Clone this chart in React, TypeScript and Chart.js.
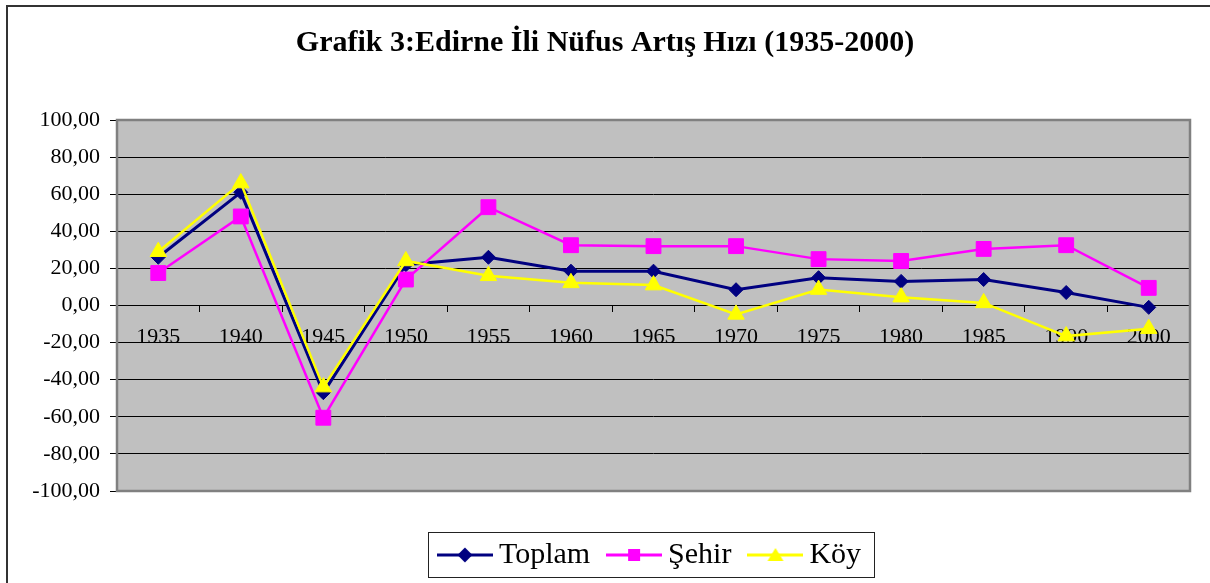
import React, { useEffect, useRef } from 'react';
import { Chart, registerables } from 'chart.js';

Chart.register(...registerables);

const TITLE = 'Grafik 3:Edirne İli Nüfus Artış Hızı (1935-2000)';
const YEARS = ['1935', '1940', '1945', '1950', '1955', '1960', '1965', '1970', '1975', '1980', '1985', '1990', '2000'];
const SERIES_NAMES = ['Toplam', 'Şehir', 'Köy'];
const TOPLAM = [26, 61, -47, 22, 26, 18.5, 18.5, 8.5, 15, 13, 14, 7, -1];
const SEHIR = [17.5, 48, -60.5, 14, 53, 32.5, 32, 32, 25, 24, 30.5, 32.5, 9.5];
const KOY = [29, 66, -44, 24, 16, 12.2, 11, -4.8, 8.6, 4.5, 1.4, -16.5, -12.5];
const Y_MIN = -100;
const Y_MAX = 100;
const Y_STEP = 20;

const SERIF = '"Liberation Serif", "Times New Roman", serif';
const NAVY = '#000080';
const MAGENTA = '#FF00FF';
const YELLOW = '#FFFF00';

function makeLegendIcon(color: string, shape: string): HTMLCanvasElement {
  const c = document.createElement('canvas');
  c.width = 56;
  c.height = 20;
  const ctx = c.getContext('2d')!;
  ctx.strokeStyle = color;
  ctx.lineWidth = 3;
  ctx.beginPath();
  ctx.moveTo(0, 10);
  ctx.lineTo(56, 10);
  ctx.stroke();
  ctx.fillStyle = color;
  ctx.beginPath();
  const cx = 28;
  const cy = 10;
  if (shape === 'diamond') {
    ctx.moveTo(cx - 7.5, cy);
    ctx.lineTo(cx, cy - 7.5);
    ctx.lineTo(cx + 7.5, cy);
    ctx.lineTo(cx, cy + 7.5);
    ctx.closePath();
  } else if (shape === 'square') {
    ctx.rect(cx - 6, cy - 6, 12, 12);
  } else {
    ctx.moveTo(cx, cy - 7);
    ctx.lineTo(cx + 8, cy + 6);
    ctx.lineTo(cx - 8, cy + 6);
    ctx.closePath();
  }
  ctx.fill();
  return c;
}

const framePlugin = {
  id: 'framePlugin',
  beforeDraw(chart: any) {
    const { ctx, chartArea, width, height } = chart;
    ctx.save();
    ctx.fillStyle = '#FFFFFF';
    ctx.fillRect(0, 0, width, height);
    ctx.fillStyle = '#C0C0C0';
    ctx.fillRect(chartArea.left, chartArea.top, chartArea.right - chartArea.left, chartArea.bottom - chartArea.top);
    ctx.strokeStyle = '#333333';
    ctx.lineWidth = 2;
    ctx.beginPath();
    ctx.moveTo(7, height + 10);
    ctx.lineTo(7, 6);
    ctx.lineTo(width + 10, 6);
    ctx.stroke();
    ctx.restore();
  },
  beforeDatasetsDraw(chart: any) {
    const { ctx, chartArea } = chart;
    ctx.save();
    ctx.strokeStyle = '#808080';
    ctx.lineWidth = 2.5;
    ctx.strokeRect(chartArea.left, chartArea.top, chartArea.right - chartArea.left, chartArea.bottom - chartArea.top);
    ctx.restore();
  },
  afterDraw(chart: any) {
    const legend = chart.legend;
    if (!legend || !legend.legendHitBoxes || !legend.legendHitBoxes.length) return;
    const hb = legend.legendHitBoxes;
    const first = hb[0];
    const last = hb[hb.length - 1];
    const cy = first.top + first.height / 2;
    const { ctx } = chart;
    ctx.save();
    ctx.strokeStyle = '#222222';
    ctx.lineWidth = 1;
    const l = Math.round(first.left - 18) + 0.5;
    const r = Math.round(last.left + last.width + 13) + 0.5;
    const t = Math.round(cy - 23) + 0.5;
    const b = Math.round(cy + 22) + 0.5;
    ctx.strokeRect(l, t, r - l, b - t);
    ctx.restore();
  },
};

export default function App() {
  const canvasRef = useRef<HTMLCanvasElement | null>(null);

  useEffect(() => {
    document.body.style.margin = '0';
    const canvas = canvasRef.current;
    if (!canvas) return;
    const icons = [makeLegendIcon(NAVY, 'diamond'), makeLegendIcon(MAGENTA, 'square'), makeLegendIcon(YELLOW, 'triangle')];

    const chart = new Chart(canvas, {
      type: 'line',
      data: {
        labels: YEARS,
        datasets: [
          {
            label: SERIES_NAMES[0],
            data: TOPLAM,
            borderColor: NAVY,
            backgroundColor: NAVY,
            borderWidth: 3,
            pointStyle: 'rectRot',
            pointRadius: 7,
            pointHoverRadius: 7,
            pointBorderWidth: 1,
            pointBackgroundColor: NAVY,
            pointBorderColor: NAVY,
            tension: 0,
            order: 2,
          },
          {
            label: SERIES_NAMES[1],
            data: SEHIR,
            borderColor: MAGENTA,
            backgroundColor: MAGENTA,
            borderWidth: 2.5,
            pointStyle: 'rect',
            pointRadius: 10.5,
            pointHoverRadius: 10.5,
            pointBorderWidth: 1,
            pointBackgroundColor: MAGENTA,
            pointBorderColor: MAGENTA,
            tension: 0,
            order: 1,
          },
          {
            label: SERIES_NAMES[2],
            data: KOY,
            borderColor: YELLOW,
            backgroundColor: YELLOW,
            borderWidth: 2.5,
            pointStyle: 'triangle',
            pointRadius: 9.5,
            pointHoverRadius: 9.5,
            pointBorderWidth: 1,
            pointBackgroundColor: YELLOW,
            pointBorderColor: YELLOW,
            tension: 0,
            order: 0,
          },
        ],
      },
      options: {
        animation: false,
        responsive: false,
        maintainAspectRatio: false,
        events: [],
        layout: { padding: { left: 0, right: 0, top: 0, bottom: 3 } },
        scales: {
          x: {
            type: 'category',
            position: { y: 0 } as any,
            offset: true,
            grid: {
              offset: true,
              drawOnChartArea: false,
              drawTicks: true,
              tickLength: 6,
              color: '#000000',
              lineWidth: 1,
            },
            border: { display: true, color: '#000000', width: 1 },
            ticks: {
              color: '#000000',
              font: { family: SERIF, size: 22 },
              padding: 13,
              maxRotation: 0,
              autoSkip: false,
            },
          },
          y: {
            type: 'linear',
            min: Y_MIN,
            max: Y_MAX,
            afterFit: (scale: any) => {
              scale.width = 117;
            },
            grid: {
              color: '#000000',
              lineWidth: 1,
              drawTicks: true,
              tickLength: 7,
            },
            border: { display: false },
            ticks: {
              stepSize: Y_STEP,
              color: '#000000',
              font: { family: SERIF, size: 22 },
              padding: 10,
              callback: (v: any) => Number(v).toFixed(2).replace('.', ','),
            },
          },
          spacer: {
            type: 'linear',
            position: 'right',
            min: 0,
            max: 1,
            afterFit: (scale: any) => {
              scale.width = 20;
            },
            grid: { display: false, drawTicks: false },
            border: { display: false },
            ticks: { display: false },
          },
        },
        plugins: {
          title: {
            display: true,
            text: TITLE,
            color: '#000000',
            font: { family: SERIF, size: 30, weight: 'bold' },
            padding: { top: 25, bottom: 59 },
          },
          legend: {
            display: true,
            position: 'bottom',
            fullSize: false,
            title: {
              display: true,
              text: '',
              font: { family: SERIF, size: 10 },
              padding: { top: 12, bottom: 0 },
            },
            labels: {
              color: '#000000',
              font: { family: SERIF, size: 30 },
              usePointStyle: true,
              pointStyleWidth: 38,
              padding: 25,
              sort: (a: any, b: any) => a.datasetIndex - b.datasetIndex,
              generateLabels: (ch: any) => {
                const items = Chart.defaults.plugins.legend.labels.generateLabels(ch);
                items.forEach((it: any) => {
                  it.pointStyle = icons[it.datasetIndex];
                  it.lineWidth = 0;
                });
                return items;
              },
            },
          },
          tooltip: { enabled: false },
        },
      } as any,
      plugins: [framePlugin],
    });

    return () => {
      chart.destroy();
    };
  }, []);

  return (
    <div style={{ width: 1210, height: 583, position: 'relative' }}>
      <canvas ref={canvasRef} width={1210} height={583} style={{ display: 'block', width: 1210, height: 583 }} />
    </div>
  );
}
